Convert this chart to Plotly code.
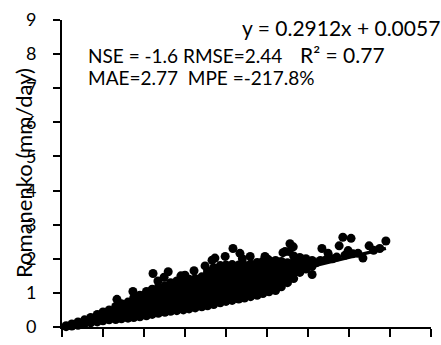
import plotly.graph_objects as go

# Measured evaporation (x, mm/day) against the Romanenko estimate (y, mm/day).
# Dense part of the cloud, read column by column.
col_x = [0.10, 0.24, 0.39, 0.55, 0.70, 0.86, 1.00, 1.15, 1.31, 1.45,
         1.61, 1.75, 1.90, 2.06, 2.20, 2.35, 2.51, 2.65, 2.80, 2.96,
         3.10, 3.25, 3.41, 3.55, 3.70, 3.86, 4.00, 4.15, 4.31, 4.45,
         4.60, 4.76, 4.90, 5.05, 5.21, 5.35, 5.50, 5.65, 5.80, 5.95,
         6.10]
col_y = [
    [0.01, 0.04],
    [0.03, 0.09],
    [0.05, 0.15],
    [0.09, 0.21],
    [0.12, 0.22, 0.28],
    [0.15, 0.29, 0.37],
    [0.18, 0.31, 0.44],
    [0.21, 0.35, 0.50],
    [0.22, 0.37, 0.51, 0.60],
    [0.24, 0.40, 0.55, 0.68],
    [0.26, 0.41, 0.57, 0.73],
    [0.28, 0.44, 0.60, 0.75, 0.86],
    [0.30, 0.46, 0.62, 0.79, 0.93],
    [0.33, 0.48, 0.65, 0.81, 0.96, 1.04],
    [0.37, 0.52, 0.67, 0.84, 1.00, 1.11],
    [0.40, 0.55, 0.71, 0.86, 1.03, 1.16],
    [0.43, 0.58, 0.74, 0.90, 1.05, 1.21],
    [0.46, 0.61, 0.77, 0.92, 1.09, 1.24, 1.30],
    [0.48, 0.63, 0.79, 0.95, 1.10, 1.27, 1.35],
    [0.50, 0.66, 0.82, 0.97, 1.14, 1.29, 1.42],
    [0.53, 0.69, 0.84, 1.01, 1.16, 1.32, 1.40],
    [0.56, 0.71, 0.88, 1.03, 1.20, 1.35, 1.42],
    [0.59, 0.75, 0.90, 1.07, 1.22, 1.38, 1.47],
    [0.62, 0.78, 0.94, 1.09, 1.26, 1.41, 1.57, 1.64],
    [0.66, 0.81, 0.98, 1.13, 1.30, 1.45, 1.62, 1.74],
    [0.71, 0.86, 1.03, 1.18, 1.35, 1.50, 1.66, 1.80],
    [0.75, 0.90, 1.07, 1.22, 1.39, 1.54, 1.71, 1.82],
    [0.78, 0.94, 1.10, 1.26, 1.41, 1.58, 1.73, 1.83],
    [0.82, 0.97, 1.14, 1.29, 1.46, 1.61, 1.77, 1.82],
    [0.85, 1.01, 1.16, 1.33, 1.48, 1.65, 1.81],
    [0.89, 1.04, 1.21, 1.36, 1.53, 1.68, 1.85],
    [0.93, 1.09, 1.24, 1.41, 1.56, 1.73, 1.89],
    [0.98, 1.13, 1.30, 1.45, 1.62, 1.77, 1.93],
    [1.03, 1.18, 1.35, 1.50, 1.66, 1.82, 1.96],
    [1.07, 1.23, 1.38, 1.55, 1.70, 1.86, 1.95],
    [1.18, 1.33, 1.50, 1.65, 1.81, 1.92],
    [1.30, 1.45, 1.62, 1.77, 1.88],
    [1.42, 1.58, 1.73, 1.90, 2.08],
    [1.60, 1.75, 1.91, 2.04],
    [1.70, 1.86, 2.00],
    [1.78, 1.95],
]

# Scattered points above the cloud and along the upper end of the range.
out_x = [1.34, 1.73, 2.22, 2.34, 2.49, 2.59, 2.90, 3.00, 3.22, 3.49,
         3.66, 3.73, 3.98, 4.17, 4.34, 4.40, 4.59, 4.95, 5.00, 5.39,
         5.44, 5.54, 5.56, 5.64, 5.75, 5.90, 6.00, 6.10, 6.20, 6.30,
         6.34, 6.45, 6.49, 6.60, 6.70, 6.76, 6.85, 6.90, 6.98, 7.05,
         7.10, 7.22, 7.34, 7.49, 7.60, 7.75, 7.90]
out_y = [0.81, 1.04, 1.57, 1.35, 1.46, 1.62, 1.50, 1.52, 1.65, 1.79,
         1.96, 2.02, 2.07, 2.30, 2.16, 2.00, 2.07, 2.07, 2.00, 2.18,
         2.21, 2.21, 2.44, 2.35, 1.78, 1.95, 1.85, 1.54, 1.88, 1.95,
         2.30, 1.98, 2.16, 2.00, 2.05, 2.38, 2.63, 2.10, 2.24, 2.60,
         2.15, 2.16, 2.02, 2.38, 2.25, 2.30, 2.52]

# Linear fit and goodness-of-fit statistics.
slope = 0.2912
intercept = 0.0057
r_squared = 0.77
nse, rmse, mae, mpe = -1.6, 2.44, 2.77, -217.8

y_ticks = [0, 1, 2, 3, 4, 5, 6, 7, 8, 9]
x_ticks = [0, 1, 2, 3, 4, 5, 6, 7, 8, 9]

xs, ys = [], []
for cx, cy in zip(col_x, col_y):
    for v in cy:
        xs.append(cx)
        ys.append(v)
xs += out_x
ys += out_y

FONT = "Lato"

fig = go.Figure()
fig.add_trace(go.Scatter(
    x=xs, y=ys, mode="markers",
    marker=dict(color="black", size=9, line=dict(width=0)),
    cliponaxis=False, hoverinfo="skip",
))
x_lo, x_hi = min(xs), max(xs)
fig.add_trace(go.Scatter(
    x=[x_lo, x_hi],
    y=[slope * x_lo + intercept, slope * x_hi + intercept],
    mode="lines", line=dict(color="black", width=3.5),
    hoverinfo="skip",
))

axis_common = dict(
    range=[0, 9], showline=True, linewidth=2, linecolor="black",
    showgrid=False, zeroline=False, ticks="outside", tickwidth=2,
    tickcolor="black", fixedrange=True,
)
fig.update_xaxes(**axis_common, tickvals=x_ticks, ticklen=8,
                 showticklabels=False)
fig.update_yaxes(**axis_common, tickvals=y_ticks, ticklen=7,
                 ticktext=[str(t) for t in y_ticks],
                 tickfont=dict(family=FONT, size=18, color="black"),
                 ticklabelstandoff=13)

txt = dict(family=FONT, color="black")
fig.add_annotation(
    x=-0.1057, y=0.5016, xref="paper", yref="paper",
    text="Romanenko (mm/day)", textangle=-90, showarrow=False,
    font=dict(size=22, **txt), xanchor="center", yanchor="middle",
)
fig.add_annotation(
    x=4.33, y=8.77, text=f"y = {slope}x + {intercept}", showarrow=False,
    xanchor="left", yanchor="middle", font=dict(size=21, **txt),
)
fig.add_annotation(
    x=5.75, y=7.99, text=f"R² = {r_squared}", showarrow=False,
    xanchor="left", yanchor="middle", font=dict(size=21, **txt),
)
fig.add_annotation(
    x=0.58, y=7.97, text=f"NSE = {nse} RMSE={rmse}", showarrow=False,
    xanchor="left", yanchor="middle", font=dict(size=19, **txt),
)
fig.add_annotation(
    x=0.58, y=7.30, text=f"MAE={mae}\u00a0 MPE =-{abs(mpe)}%",
    showarrow=False, xanchor="left", yanchor="middle",
    font=dict(size=19, **txt),
)

fig.update_layout(
    width=441, height=345,
    margin=dict(l=62, r=10, t=16, b=8),
    plot_bgcolor="white", paper_bgcolor="white",
    showlegend=False,
)

fig.write_html("out.html")
